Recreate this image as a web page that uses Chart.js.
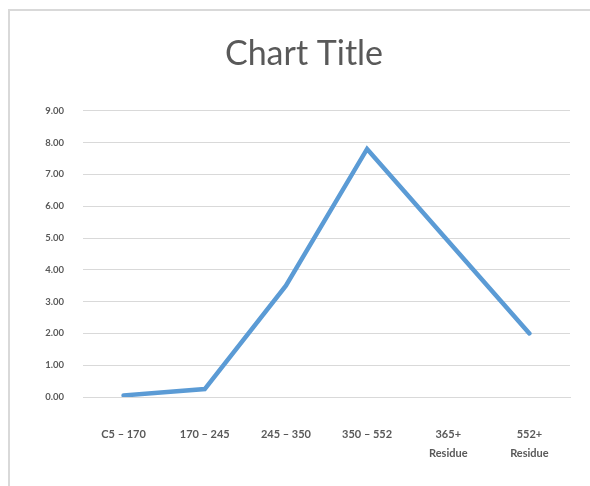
<!DOCTYPE html>
<html lang="en">
<head>
  <meta charset="UTF-8">
  <title>Chart Title</title>
  <script src="https://cdn.jsdelivr.net/npm/chart.js"></script>
  <style>
    body { margin: 0; background: #fff; }
    #box {
      position: absolute; left: 8px; top: 9px;
      width: 582px; height: 477px;
      border-left: 2px solid #d9d9d9;
      border-top: 2px solid #d9d9d9;
    }
  </style>
</head>
<body>
  <div id="box">
    <canvas id="chart" width="580" height="475"></canvas>
  </div>

  <script>
    // categorias y valores
    const categories = ['C5 \u2013 170', '170 \u2013 245', '245 \u2013 350', '350 \u2013 552', ['365+', 'Residue'], ['552+', 'Residue']];
    const values = [0.05, 0.25, 3.5, 7.8, 4.9, 2.0];
    const yMin = 0;
    const yMax = 9;
    const yStep = 1;

    const txt = '#595959';
    const grid = '#d9d9d9';

    const ctx = document.getElementById('chart').getContext('2d');
    new Chart(ctx, {
      type: 'line',
      data: {
        labels: categories,
        datasets: [{
          label: 'Series1',
          data: values,
          borderColor: '#5b9bd5',
          borderWidth: 4.5,
          borderJoinStyle: 'miter',
          borderCapStyle: 'round',
          pointRadius: 0,
          tension: 0,
          fill: false
        }]
      },
      options: {
        responsive: false,
        animation: false,
        layout: { padding: { left: 28, right: 20, top: 1, bottom: 0 } },
        plugins: {
          legend: { display: false },
          tooltip: { enabled: false },
          title: {
            display: true,
            text: 'Chart Title',
            color: txt,
            font: { family: 'Lato', size: 34, weight: 'normal', lineHeight: 1.2 },
            padding: { top: 22, bottom: 36 }
          }
        },
        scales: {
          x: {
            offset: true,
            grid: { display: false },
            border: { display: true, color: grid, width: 1 },
            ticks: {
              color: txt,
              font: { family: 'Lato', size: 11, weight: 'bold', lineHeight: 1.7 },
              padding: 20,
              maxRotation: 0,
              autoSkip: false
            },
            afterFit: s => { s.height = 89; }
          },
          y: {
            min: yMin,
            max: yMax,
            grid: { color: grid, lineWidth: 1, drawTicks: false },
            border: { display: false },
            ticks: {
              stepSize: yStep,
              color: txt,
              font: { family: 'Lato', size: 9.5, weight: 'bold' },
              padding: 19,
              callback: v => v.toFixed(2)
            },
            afterFit: s => { s.width = 45; }
          }
        }
      }
    });
  </script>
</body>
</html>
